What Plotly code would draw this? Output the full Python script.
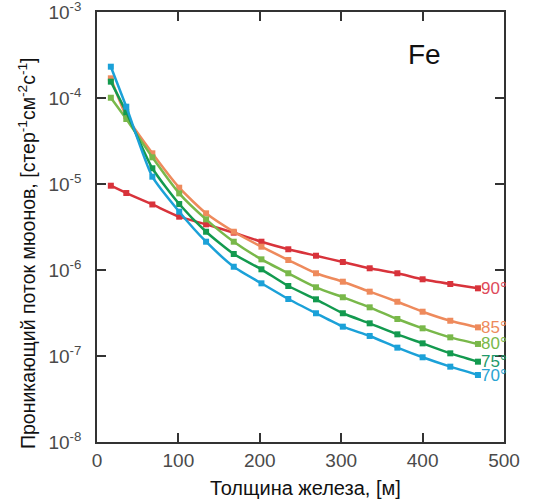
import plotly.graph_objects as go

thickness = [17, 36, 68, 101, 134, 168, 202, 235, 269, 302, 335, 369, 400, 434, 468]

log_flux_90 = [-5.02, -5.105, -5.238, -5.38, -5.469, -5.566, -5.671, -5.759, -5.834, -5.907, -5.98, -6.038, -6.108, -6.163, -6.213]
log_flux_85 = [-3.771, -4.209, -4.643, -5.043, -5.341, -5.555, -5.729, -5.884, -6.038, -6.136, -6.252, -6.369, -6.485, -6.59, -6.667]
log_flux_80 = [-3.997, -4.244, -4.69, -5.109, -5.411, -5.671, -5.876, -6.038, -6.201, -6.317, -6.434, -6.57, -6.678, -6.783, -6.86]
log_flux_75 = [-3.81, -4.166, -4.817, -5.233, -5.555, -5.814, -5.992, -6.186, -6.341, -6.503, -6.62, -6.748, -6.853, -6.969, -7.066]
log_flux_70 = [-3.636, -4.101, -4.915, -5.322, -5.671, -5.962, -6.155, -6.337, -6.503, -6.659, -6.767, -6.903, -7.015, -7.124, -7.221]

series_names = ["90°", "85°", "80°", "75°", "70°"]
series_logs = [log_flux_90, log_flux_85, log_flux_80, log_flux_75, log_flux_70]
line_colors = ["#d8333b", "#ee8a5c", "#79b84a", "#139a4f", "#1ba1d8"]
label_colors = ["#de4a5a", "#ee8a5c", "#79b84a", "#1f9a6a", "#2aa3d3"]

y_tickvals = [1e-8, 1e-7, 1e-6, 1e-5, 1e-4, 1e-3]
y_ticktext = ["10<sup>-8</sup>", "10<sup>-7</sup>", "10<sup>-6</sup>", "10<sup>-5</sup>", "10<sup>-4</sup>", "10<sup>-3</sup>"]
x_tickvals = [0, 100, 200, 300, 400, 500]

FONT = "Liberation Sans, Arial"

fig = go.Figure()
for name, logs, lc, tc in zip(series_names, series_logs, line_colors, label_colors):
    yv = [10 ** v for v in logs]
    fig.add_trace(go.Scatter(
        x=thickness, y=yv, mode="lines+markers", name=name,
        line=dict(color=lc, width=2.5, shape="spline", smoothing=0.6),
        marker=dict(symbol="square", size=6, color=lc),
        showlegend=False,
    ))
    fig.add_annotation(x=thickness[-1], y=logs[-1], xref="x", yref="y",
                       text=name, showarrow=False, xanchor="left", yanchor="middle",
                       xshift=1, font=dict(family=FONT, size=17, color=tc))

fig.add_annotation(x=(424 - 97) / 407, y=1 - (55 - 12) / 430, xref="paper", yref="paper", text="Fe",
                   showarrow=False, xanchor="center", yanchor="middle",
                   font=dict(family=FONT, size=28, color="#111"))

fig.add_annotation(x=(27 - 97) / 407, y=1 - (253 - 12) / 430, xref="paper", yref="paper",
                   text="Проникающий поток мюонов, [стер<sup>-1</sup>см<sup>-2</sup>с<sup>-1</sup>]",
                   showarrow=False, textangle=-90, xanchor="center", yanchor="middle",
                   font=dict(family=FONT, size=19.5, color="#111"))

fig.add_annotation(x=(305 - 97) / 407, y=1 - (488 - 12) / 430, xref="paper", yref="paper",
                   text="Толщина железа, [м]",
                   showarrow=False, xanchor="center", yanchor="middle",
                   font=dict(family=FONT, size=20, color="#111"))

axis_common = dict(showline=True, linecolor="#333", linewidth=1.5, mirror="ticks",
                   ticks="inside", ticklen=9, tickwidth=1.5, tickcolor="#333",
                   showgrid=False, zeroline=False, automargin=False,
                   ticklabeloverflow="allow",
                   tickfont=dict(family=FONT, size=19, color="#4a4a4a"))

fig.update_xaxes(range=[0, 500], tickvals=x_tickvals, **axis_common)
fig.update_yaxes(type="log", range=[-8, -3], tickvals=y_tickvals, ticktext=y_ticktext,
                 ticklabelstandoff=10, **axis_common)

fig.update_layout(width=544, height=504, margin=dict(l=97, r=40, t=12, b=62),
                  plot_bgcolor="white", paper_bgcolor="white")

fig.write_html("out.html")
